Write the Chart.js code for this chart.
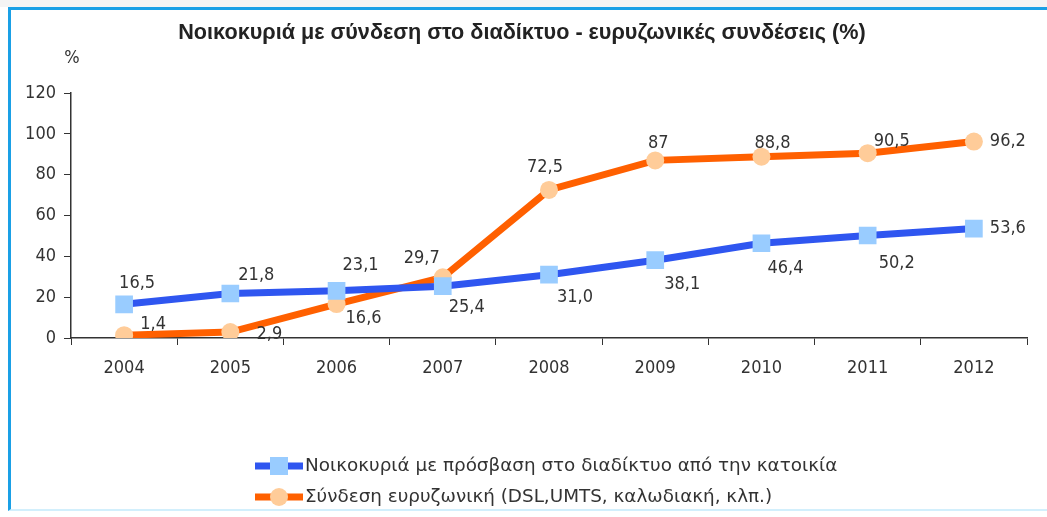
<!DOCTYPE html>
<html>
<head>
<meta charset="utf-8">
<script src="https://cdn.jsdelivr.net/npm/chart.js@4/dist/chart.umd.min.js"></script>
<style>
  html, body { margin: 0; padding: 0; background: #fff; }
  #wrap { position: relative; width: 1047px; height: 517px; overflow: hidden; background: #fff; }
  #frame {
    position: absolute; left: 8px; top: 7px; width: 1045px; height: 504px;
    border-left: 3px solid #1aa0e6; border-top: 3px solid #1aa0e6;
    border-bottom: 2px solid #d2effc; box-sizing: border-box;
  }
  #topband { position: absolute; left: 0; top: 0; width: 1047px; height: 7px; background: #f4f4f4; }
  canvas { position: absolute; left: 0; top: 0; }
</style>
</head>
<body>
<div id="wrap">
  <div id="topband"></div>
  <div id="frame"></div>
  <canvas id="chart" width="1047" height="517"></canvas>
</div>
<script>
// === Data ===
const YEARS = ["2004", "2005", "2006", "2007", "2008", "2009", "2010", "2011", "2012"];
const HOUSEHOLDS_ACCESS = [16.5, 21.8, 23.1, 25.4, 31.0, 38.1, 46.4, 50.2, 53.6];
const BROADBAND = [1.4, 2.9, 16.6, 29.7, 72.5, 87, 88.8, 90.5, 96.2];
const Y_TICKS = [0, 20, 40, 60, 80, 100, 120];

const TITLE = "Νοικοκυριά με σύνδεση στο διαδίκτυο - ευρυζωνικές συνδέσεις (%)";
const SERIES_NAMES = [
  "Νοικοκυριά με πρόσβαση στο διαδίκτυο από την κατοικία",
  "Σύνδεση ευρυζωνική (DSL,UMTS, καλωδιακή, κλπ.)"
];

// label text as printed (greek decimal comma, 87 stays whole)
const fmt = (v) => (v === 87 ? "87" : v.toFixed(1).replace(".", ","));

// label offsets from each point, per series (style only)
const LABEL_OFFSETS = [
  [[13, -21], [26, -18], [24, -26], [24, 21], [26, 23], [27, 24], [24, 25], [29, 28], [34, 0]],
  [[29, -11], [39, 2], [27, 14], [-21, -19], [-4, -23], [3, -17], [11, -13], [24, -12], [34, 0]]
];

const FONT = "'DejaVu Sans Condensed', 'DejaVu Sans', sans-serif";
const FONT_SIZE = 18;
const BLUE = "#2f56f0", BLUE_MARK = "#99ccff";
const ORANGE = "#ff6000", ORANGE_MARK = "#ffcc99";

// set a font size so the text spans the given width
function fitFont(ctx, text, weight, family, width) {
  ctx.font = `${weight} 20px ${family}`;
  const size = 20 * width / ctx.measureText(text).width;
  ctx.font = `${weight} ${size.toFixed(2)}px ${family}`;
}

// === Extra drawing: title, unit, point labels, legend ===
const decorations = {
  id: "decorations",
  afterDatasetsDraw(chart) {
    const ctx = chart.ctx;
    ctx.save();
    ctx.fillStyle = "#222";
    ctx.textAlign = "center";
    ctx.textBaseline = "middle";
    fitFont(ctx, TITLE, "bold", "'Liberation Sans', sans-serif", 688);
    ctx.fillText(TITLE, 522, 33);
    ctx.font = `${FONT_SIZE}px ${FONT}`;
    ctx.fillStyle = "#333";
    ctx.fillText("%", 72, 58);

    // point labels
    chart.data.datasets.forEach((ds, di) => {
      const meta = chart.getDatasetMeta(di);
      meta.data.forEach((pt, i) => {
        const [dx, dy] = LABEL_OFFSETS[di][i];
        ctx.fillText(fmt(ds.data[i]), pt.x + dx, pt.y + dy);
      });
    });

    // legend
    const items = [
      { y: 466, line: BLUE, mark: BLUE_MARK, shape: "rect" },
      { y: 497, line: ORANGE, mark: ORANGE_MARK, shape: "circle" }
    ];
    fitFont(ctx, SERIES_NAMES[0], "normal", "'DejaVu Sans', sans-serif", 533);
    const legendFont = ctx.font;
    items.forEach((it, i) => {
      ctx.strokeStyle = it.line;
      ctx.lineWidth = 7;
      ctx.beginPath();
      ctx.moveTo(255, it.y);
      ctx.lineTo(303, it.y);
      ctx.stroke();
      ctx.fillStyle = it.mark;
      if (it.shape === "rect") {
        ctx.fillRect(270, it.y - 9, 18, 18);
      } else {
        ctx.beginPath();
        ctx.arc(279, it.y, 9, 0, Math.PI * 2);
        ctx.fill();
      }
      ctx.fillStyle = "#333";
      ctx.textAlign = "left";
      ctx.font = legendFont;
      ctx.fillText(SERIES_NAMES[i], 305, it.y);
    });
    ctx.restore();
  }
};

new Chart(document.getElementById("chart"), {
  type: "line",
  data: {
    labels: YEARS,
    datasets: [
      {
        label: SERIES_NAMES[0],
        data: HOUSEHOLDS_ACCESS,
        borderColor: BLUE,
        borderWidth: 7,
        pointStyle: "rect",
        pointRadius: 12.5,
        pointBackgroundColor: BLUE_MARK,
        pointBorderWidth: 0,
        tension: 0
      },
      {
        label: SERIES_NAMES[1],
        data: BROADBAND,
        borderColor: ORANGE,
        borderWidth: 7,
        pointStyle: "circle",
        pointRadius: 9,
        pointBackgroundColor: ORANGE_MARK,
        pointBorderWidth: 0,
        tension: 0
      }
    ]
  },
  options: {
    responsive: false,
    animation: false,
    layout: { padding: { top: 93, right: 20, bottom: 0, left: 0 } },
    plugins: { legend: { display: false }, tooltip: { enabled: false }, title: { display: false } },
    scales: {
      x: {
        offset: true,
        afterFit: (s) => { s.height = 179; },
        grid: { display: true, drawOnChartArea: false, drawTicks: true, tickLength: 7, color: "#333", offset: true },
        border: { color: "#333", width: 1.5 },
        ticks: { color: "#333", font: { family: FONT, size: FONT_SIZE }, padding: 13 }
      },
      y: {
        min: 0,
        max: 120,
        afterFit: (s) => { s.width = 71; },
        afterBuildTicks: (s) => { s.ticks = Y_TICKS.map((v) => ({ value: v })); },
        grid: { display: true, drawOnChartArea: false, drawTicks: true, tickLength: 7, color: "#333" },
        border: { color: "#333", width: 1.5 },
        ticks: { color: "#333", font: { family: FONT, size: FONT_SIZE }, padding: 8 }
      }
    }
  },
  plugins: [decorations]
});
</script>
</body>
</html>
